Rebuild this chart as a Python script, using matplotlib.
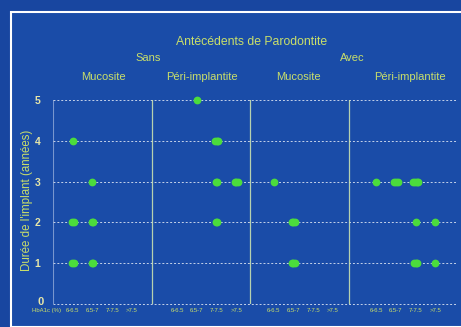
import matplotlib
matplotlib.use("Agg")
import matplotlib.pyplot as plt
from matplotlib.patches import Rectangle

plt.rcParams['font.family'] = ['Liberation Sans', 'DejaVu Sans']

# ---- data ----
title = "Antécédents de Parodontite"
history_labels = ["Sans", "Avec"]
group_labels = ["Mucosite", "Péri-implantite", "Mucosite", "Péri-implantite"]
hba1c_labels = ["6-6.5", "6.5-7", "7-7.5", ">7.5"]
y_ticks = [0, 1, 2, 3, 4, 5]
y_label = "Durée de l'implant (années)"
x_prefix = "HbA1c (%)"

# each point: group index, HbA1c category index, duration (years), number of implants
pt_group = [0, 0, 0, 0, 0, 0,
            1, 1, 1, 1, 1,
            2, 2, 2,
            3, 3, 3, 3, 3, 3, 3]
pt_cat = [0, 1, 0, 1, 0, 1,
          1, 2, 2, 3, 2,
          0, 1, 1,
          0, 1, 2, 2, 3, 2, 3]
pt_dur = [4, 3, 2, 2, 1, 1,
          5, 4, 3, 3, 2,
          3, 2, 1,
          3, 3, 3, 2, 2, 1, 1]
pt_count = [1, 1, 2, 2, 2, 2,
            1, 3, 2, 3, 2,
            1, 3, 3,
            1, 3, 4, 1, 1, 3, 1]

# ---- layout ----
W, H = 461, 327
BG = '#1a4ca8'
TXT = '#c9df6a'
DOT = '#4bdc3c'
group_width = 5.0
group_offsets = [1.0, 1.3, 1.2, 1.4]

fig = plt.figure(figsize=(W / 100, H / 100), dpi=100, facecolor='#1846a0')
# inner panel with white border
fig.patches.append(Rectangle((11 / W, 0), 1.0, 1 - 12 / H, transform=fig.transFigure,
                             facecolor=BG, edgecolor='white', linewidth=1.5, zorder=-5))

ax = fig.add_axes([53 / W, 23 / H, 404 / W, 204 / H], zorder=2)
ax.set_facecolor('none')
ax.patch.set_alpha(0)
n_groups = len(group_labels)
ax.set_xlim(0, n_groups * group_width + 0.5)
ax.set_ylim(0, 5)

for s in ax.spines.values():
    s.set_visible(False)

# horizontal dashed gridlines
for yv in y_ticks:
    ax.axhline(yv, color='white', lw=0.7, ls=(0, (2, 2)), alpha=0.75, zorder=1, clip_on=False)
# vertical separators
ax.axvline(0, color='#b8c8e8', lw=0.8, alpha=0.6, zorder=1)
for g in range(1, n_groups):
    ax.axvline(g * group_width, color='#c8e0b0', lw=0.9, alpha=0.9, zorder=1)

# points
spread = 0.09
for g, c, d, n in zip(pt_group, pt_cat, pt_dur, pt_count):
    xc = g * group_width + group_offsets[g] + c
    for i in range(n):
        xi = xc + (i - (n - 1) / 2) * spread
        ax.plot(xi, d, 'o', ms=5.6, color=DOT, mec='none', zorder=3, clip_on=False)

ax.set_yticks(y_ticks)
ax.set_yticklabels([str(v) if v != 0 else '' for v in y_ticks], color='#e6e6a8',
                   fontsize=7.5, fontweight='bold')
ax.tick_params(axis='y', length=0, pad=9)
ax.set_xticks([])

# x category labels
for g in range(n_groups):
    for c, lab in enumerate(hba1c_labels):
        ax.text(g * group_width + group_offsets[g] + c, -0.17, lab, color=TXT, fontsize=4.3,
                ha='center', va='center', clip_on=False)
ax.text(-0.35, -0.17, x_prefix, color=TXT, fontsize=4.3, ha='center', va='center', clip_on=False)
ax.text(-0.65, 0.05, '0', color='#e6e6a8', fontsize=8, fontweight='bold', ha='center', va='center',
        clip_on=False)

# y label
fig.text(27 / W, 1 - 200 / H, y_label, rotation=90, color=TXT, fontsize=8.3,
         ha='center', va='center')

# headers
fig.text(252 / W, 1 - 42 / H, title, color=TXT, fontsize=8.8, ha='center', va='center')
hist_x = [148, 352]
for lab, hx in zip(history_labels, hist_x):
    fig.text(hx / W, 1 - 58 / H, lab, color=TXT, fontsize=8, ha='center', va='center')
grp_x = [103, 202, 298, 410]
for lab, gx in zip(group_labels, grp_x):
    fig.text(gx / W, 1 - 77 / H, lab, color=TXT, fontsize=8, ha='center', va='center')

fig.savefig('out.png', dpi=100, facecolor=fig.get_facecolor())
